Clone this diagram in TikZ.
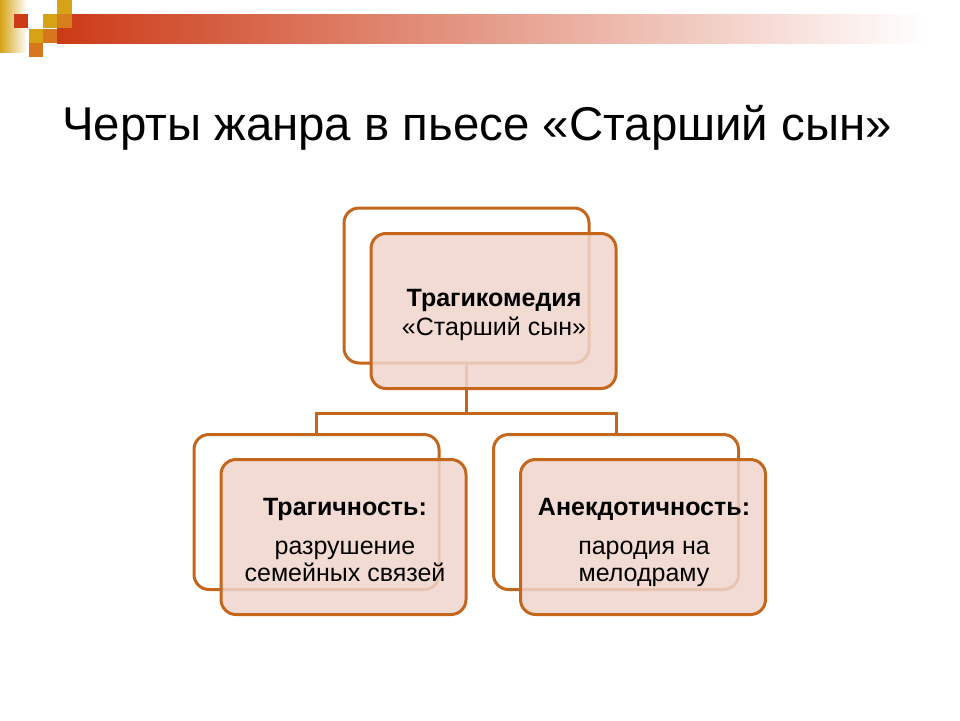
\documentclass[tikz,border=0pt]{standalone}
\usepackage{fontspec}
\setmainfont{Liberation Sans}
\usetikzlibrary{calc}
\definecolor{brdr}{RGB}{196,102,28}
\definecolor{boxfill}{RGB}{239,213,204}
\definecolor{hdrred}{RGB}{204,58,22}
\definecolor{hdrgold}{RGB}{214,162,22}
\definecolor{hdrorange}{RGB}{216,118,30}
\newcommand{\boxtxt}{\fontsize{25}{27}\selectfont}

\begin{document}
\begin{tikzpicture}[x=1pt,y=-1pt,
  backbox/.style={draw=brdr, line width=3pt, fill=white, rounded corners=15pt,
    minimum width=245pt, minimum height=155pt, inner sep=0pt},
  frontbox/.style={draw=brdr, line width=3pt, fill=boxfill, fill opacity=.85,
    rounded corners=15pt, minimum width=245pt, minimum height=155pt,
    inner sep=0pt},
  boxtext/.style={align=center, font=\boxtxt},
  link/.style={draw=brdr, line width=3pt}]
\useasboundingbox (0,0) rectangle (960,720);
% the header
\shade[left color=hdrgold, right color=white] (0,0) rectangle (27,52);
\shade[left color=hdrred, right color=white] (57,14) rectangle (925,43);
\fill[hdrred] (14,14) rectangle (28,28);
\fill[hdrgold] (57,0) rectangle (72,14);
\fill[hdrgold] (43,14) rectangle (57,28);
\fill[hdrorange!80!hdrgold] (57,14) rectangle (72,28);
\fill[hdrgold] (29,29) rectangle (43,43);
\fill[hdrorange] (43,29) rectangle (57,43);
\fill[hdrorange] (29,43) rectangle (43,57);
% the title
\node[anchor=base west, inner sep=0pt, font=\fontsize{47.4}{58}\selectfont] (title)
  at (62,140) {Черты жанра в пьесе «Старший сын»};
% back boxes
\node[backbox] (topback) at (466.5,285.5) {};
\node[backbox] (leftback) at (316.5,512) {};
\node[backbox] (rightback) at (616,512) {};
% connectors
\coordinate (fork) at ($(topback.south)+(0,49)$);
\draw[link] (topback.south) -- (fork) -| (leftback.north);
\draw[link] (fork) -| (rightback.north);
% front boxes
\node[frontbox] (top) at (493.5,311) {};
\node[frontbox] (left) at (343.5,537) {};
\node[frontbox] (right) at (643,537) {};
%     their texts
\node[boxtext] (toptext) at (494,315)
  {\textbf{Трагикомедия}\\[2pt]«Старший сын»};
\node[boxtext] (lefttext) at (345,540)
  {\textbf{Трагичность:}\\[12pt]разрушение\\семейных связей};
\node[boxtext] (righttext) at (644,542)
  {\textbf{Анекдотичность:}\\[12pt]пародия на\\мелодраму};
\end{tikzpicture}
\end{document}
